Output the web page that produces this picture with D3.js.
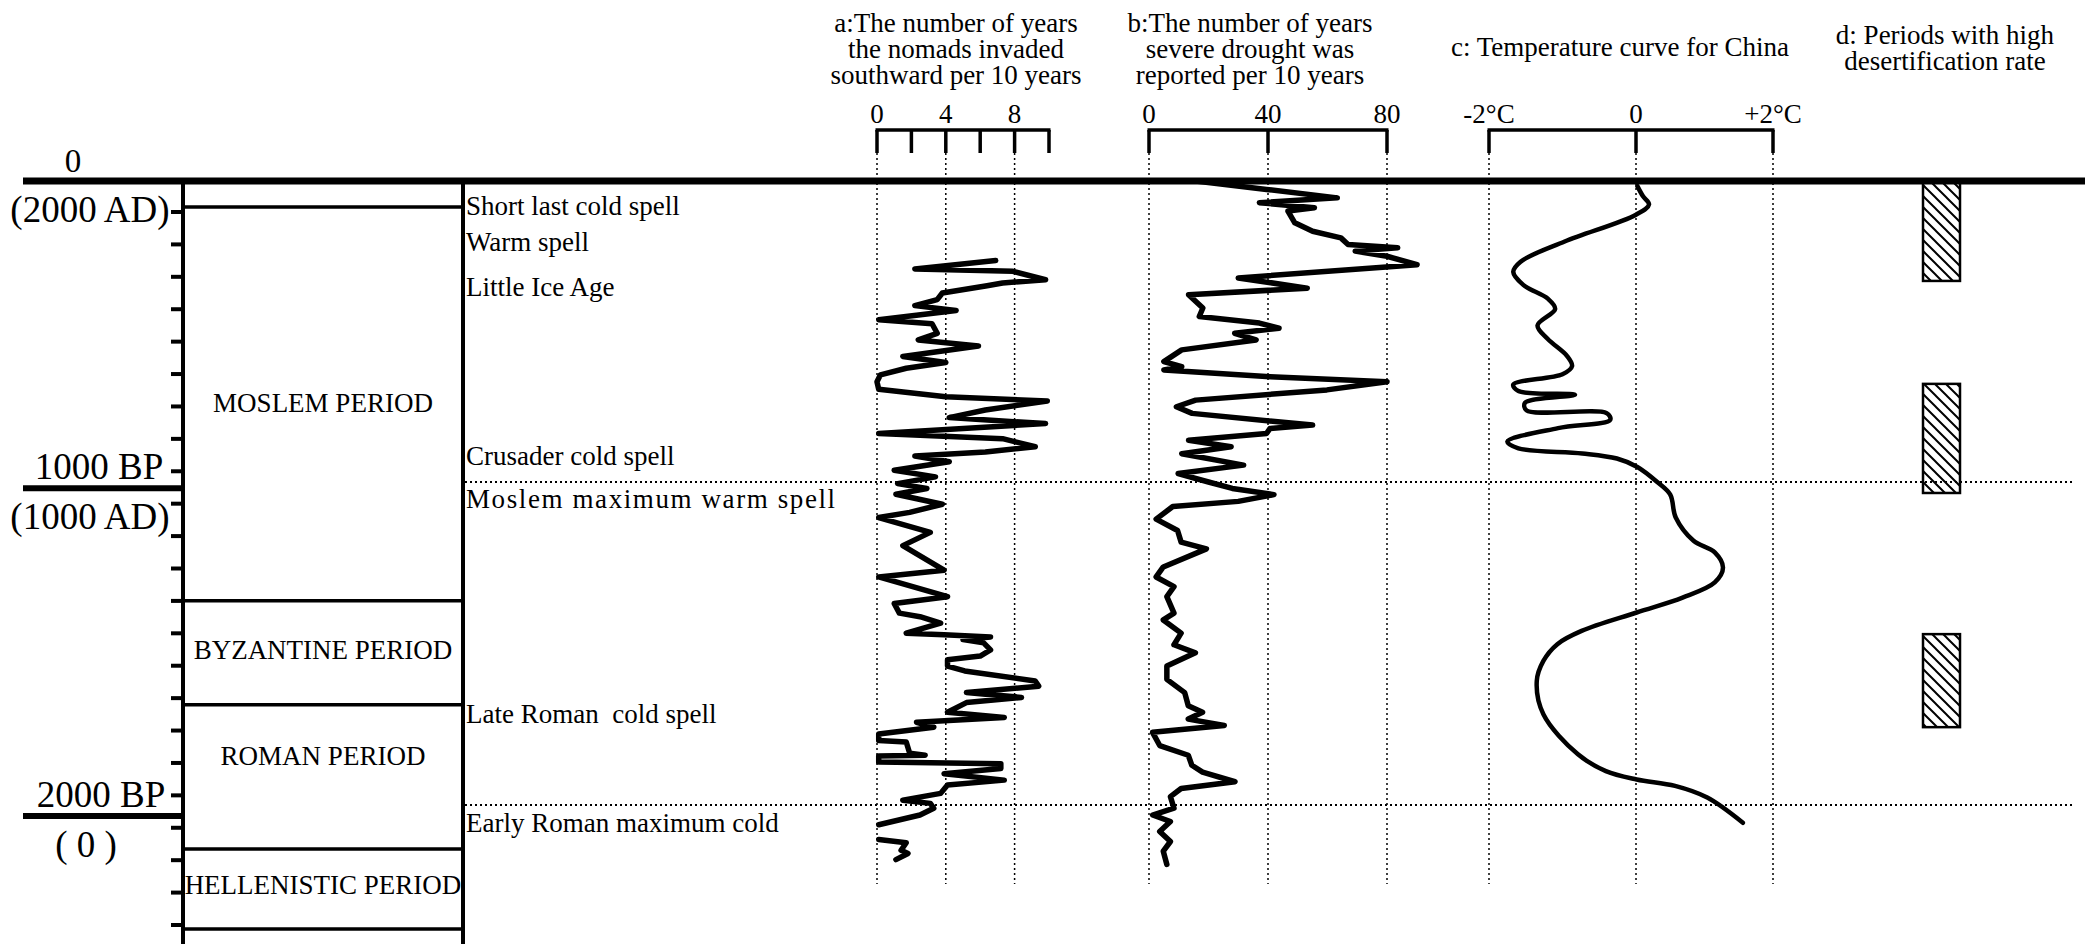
<!DOCTYPE html>
<html>
<head>
<meta charset="utf-8">
<script src="https://cdn.jsdelivr.net/npm/d3@7"></script>
<style>
body { margin: 0; background: #fff; }
text { font-family: "Liberation Serif", "Times New Roman", serif; fill: #000; white-space: pre; }
</style>
</head>
<body>
<div id="chart"></div>
<script>
var width = 2085, height = 944;

// a: years the nomads invaded southward per 10 years  [years BP, count]
var nomads = [[264,6.9],[292,2.2],[300,7.9],[328,9.8],[339,7.3],[348,6.4],[372,3.8],[394,3.5],[414,2.2],[430,4.6],
  [461,0.1],[474,3.2],[506,3.5],[528,2.4],[548,5.9],[583,1.5],[603,4.0],[622,1.7],[644,0.2],[667,0],[692,0.1],
  [717,4.0],[731,9.9],[761,6.3],[786,4.2],[806,9.8],[839,0.1],[856,7.3],[883,9.2],[900,6.3],[914,2.2],[933,4.2],
  [961,1.0],[983,3.4],[1005,1.2],[1020,2.9],[1038,1.1],[1069,3.8],[1094,1.9],[1110,0.1],[1156,3.1],[1197,1.5],
  [1273,3.9],[1294,0.1],[1355,4.1],[1376,1.0],[1406,1.3],[1417,2.5],[1437,3.7],[1468,1.7],[1473,3.9],[1480,6.6],
  [1488,5.0],[1498,6.2],[1520,6.6],[1539,6.0],[1550,4.1],[1570,4.1],[1585,5.1],[1616,9.2],[1632,9.4],[1652,5.2],
  [1667,8.4],[1683,5.2],[1713,4.1],[1729,7.4],[1744,2.3],[1759,3.3],[1780,0.1],[1800,0.1],[1805,1.7],[1840,1.9],
  [1846,2.8],[1848,0.1],[1867,0.1],[1872,7.2],[1887,7.2],[1903,3.9],[1923,7.4],[1938,4.1],[1964,3.7],[1985,1.5],
  [1995,3.1],[2010,3.3],[2031,2.5],[2061,0.1],null,[2107,0.1],[2117,1.7],[2140,1.4],[2150,1.8],[2169,1.1]];

// b: years severe drought was reported per 10 years
var drought = [[0,15.7],[28,39.5],[56,63.3],[72,37.1],[89,55.6],[100,46.7],[139,49],[167,55],[189,64.5],[211,66.9],
  [222,83.6],[233,69.3],[250,80],[278,90.1],[322,30],[356,53.2],[378,13.3],[422,18.1],[450,16.9],[472,37.1],
  [489,43.7],[506,28.8],[528,36],[561,11],[600,5],[617,11],[628,5],[650,40.7],[667,80],[694,59.8],[728,15.7],
  [750,9.2],[772,14.5],[811,55],[822,40.7],[839,39.5],[861,13.3],[883,27.6],[906,11],[944,31.8],[972,9.8],
  [1000,20],[1020,28],[1039,42],[1060,30],[1076,8],[1115,2.4],[1150,9.6],[1186,10.8],[1207,19.3],[1263,4.8],
  [1294,2.4],[1324,8.4],[1355,6.0],[1406,8.4],[1427,4.8],[1468,10.8],[1504,8.4],[1529,15.6],[1570,6.0],[1611,6.0],
  [1652,12],[1693,13.2],[1713,18],[1734,13.2],[1754,25.3],[1775,1.2],[1816,3.6],[1846,13.2],[1877,14.4],[1898,18],
  [1928,28.9],[1949,10.8],[1974,7.2],[2010,8.4],[2031,1.2],[2051,7.2],[2082,3.6],[2113,7.2],[2143,4.8],[2184,6.0]];

// c: temperature curve for China (deg C)
var temperature = [[17,0.02],[50,0.1],[78,0.19],[112,0],[201,-0.97],[268,-1.57],[302,-1.67],[346,-1.53],[391,-1.2],
  [425,-1.1],[480,-1.34],[525,-1.2],[581,-0.94],[615,-0.87],[642,-1.0],[676,-1.67],[698,-1.6],[710,-0.83],
  [737,-1.51],[762,-1.49],[771,-0.4],[793,-0.35],[821,-1.06],[866,-1.75],[888,-1.6],[905,-0.73],[922,-0.26],
  [950,0.02],[1000,0.31],[1039,0.5],[1110,0.58],[1182,0.84],[1218,1.15],[1265,1.27],[1311,1.15],[1358,0.68],
  [1404,0.01],[1461,-0.74],[1502,-1.07],[1554,-1.26],[1616,-1.35],[1719,-1.26],[1843,-0.79],[1895,-0.41],
  [1921,0.01],[1941,0.57],[1977,1.04],[2055,1.56]];

// d: periods with high desertification rate [from, to] years BP
var desertification = [[3,332],[674,1034],[1471,1759]];

// cultural periods in the left column
var periodBounds = [86, 1368, 1690, 2136, 2384];
var periodNames = ["MOSLEM PERIOD", "BYZANTINE PERIOD", "ROMAN PERIOD", "HELLENISTIC PERIOD"];
var periodLabelYears = [737, 1520, 1848, 2248];

var eventNames = ["Short last cold spell", "Warm spell", "Little Ice Age", "Crusader cold spell",
  "Moslem maximum warm spell", "Late Roman  cold spell", "Early Roman maximum cold"];
var eventYears = [83, 203, 352, 914, 1053, 1718, 2056];
var eventSpacing = [0, 0, 0, 0, 1.6, 0, 0];

var eraYears = [0, 1019, 2034];
var eraAbove = ["0", "1000 BP", "2000 BP"];
var eraBelow = ["(2000 AD)", "(1000 AD)", "( 0 )"];
var eraAboveX = [73, 99, 101];
var eraBelowX = [90, 90, 86];

var titleA = ["a:The number of years", "the nomads invaded", "southward per 10 years"];
var titleB = ["b:The number of years", "severe drought was", "reported per 10 years"];
var titleC = ["c: Temperature curve for China"];
var titleD = ["d: Periods with high", "desertification rate"];

var ticksA = [0, 2, 4, 6, 8, 10], labelsA = [0, 4, 8];
var ticksB = [0, 40, 80];
var ticksC = [-2, 0, 2], labelsC = ["-2°C", "0", "+2°C"];

// scales
var y = d3.scaleLinear().domain([0, 1000, 2000, 2500]).range([181, 482, 805, 966.5]);
var xA = d3.scaleLinear().domain([0, 10]).range([877, 1049]);
var xB = d3.scaleLinear().domain([0, 80]).range([1149, 1387]);
var xC = d3.scaleLinear().domain([-2, 0, 2]).range([1489, 1636, 1773]);
var leftTick = d3.scaleLinear().domain([0, 2200]).range([212, 925]);

var svg = d3.select("#chart").append("svg")
  .attr("width", width).attr("height", height)
  .style("display", "block");

var defs = svg.append("defs");
defs.append("pattern")
  .attr("id", "hatch").attr("patternUnits", "userSpaceOnUse")
  .attr("width", 11).attr("height", 11)
  .append("path")
  .attr("d", "M0,0 L11,11 M-3,8 L3,14 M8,-3 L14,3")
  .attr("stroke", "#000").attr("stroke-width", 2);

// ---- left column: periods
var colL = 183, colR = 463;
svg.append("line").attr("x1", colL).attr("x2", colL).attr("y1", y(0)).attr("y2", height)
  .attr("stroke", "#000").attr("stroke-width", 4);
svg.append("line").attr("x1", colR).attr("x2", colR).attr("y1", y(0)).attr("y2", height)
  .attr("stroke", "#000").attr("stroke-width", 4);

svg.selectAll(".ptick").data(d3.range(0, 2201, 100)).enter().append("line")
  .attr("x1", colL - 12).attr("x2", colL)
  .attr("y1", d => leftTick(d)).attr("y2", d => leftTick(d))
  .attr("stroke", "#000").attr("stroke-width", 4);

svg.selectAll(".pbound").data(periodBounds).enter().append("line")
  .attr("x1", colL).attr("x2", colR)
  .attr("y1", d => y(d)).attr("y2", d => y(d))
  .attr("stroke", "#000").attr("stroke-width", 3.5);

svg.selectAll(".pname").data(periodNames).enter().append("text")
  .attr("x", (colL + colR) / 2)
  .attr("y", (d, i) => y(periodLabelYears[i]))
  .attr("dy", "0.34em")
  .attr("text-anchor", "middle")
  .style("font-size", "27px")
  .text(d => d);

// era marks
svg.selectAll(".era").data(eraYears.slice(1)).enter().append("line")
  .attr("x1", 23).attr("x2", colL)
  .attr("y1", d => y(d)).attr("y2", d => y(d))
  .attr("stroke", "#000").attr("stroke-width", 6);
svg.selectAll(".eraA").data(eraAbove).enter().append("text")
  .attr("x", (d, i) => eraAboveX[i]).attr("y", (d, i) => y(eraYears[i]) - 9)
  .attr("text-anchor", "middle").style("font-size", (d, i) => i ? "37px" : "33px")
  .text(d => d);
svg.selectAll(".eraB").data(eraBelow).enter().append("text")
  .attr("x", (d, i) => eraBelowX[i]).attr("y", (d, i) => y(eraYears[i]) + 41)
  .attr("text-anchor", "middle").style("font-size", "37px")
  .text(d => d);

// events
svg.selectAll(".event").data(eventNames).enter().append("text")
  .attr("x", colR + 3).attr("y", (d, i) => y(eventYears[i]))
  .attr("dy", "0.34em")
  .style("font-size", "27px")
  .style("letter-spacing", (d, i) => eventSpacing[i] + "px")
  .text(d => d);

// dotted guides at 1000 and 2000 BP
svg.selectAll(".hguide").data([1000, 2000]).enter().append("line")
  .attr("x1", colR + 2).attr("x2", 2075)
  .attr("y1", d => y(d)).attr("y2", d => y(d))
  .attr("stroke", "#000").attr("stroke-width", 2).attr("stroke-dasharray", "2,3");

// ---- panel axes (bracket style)
var bracketY = 130, tickBottom = 153, guideBottom = 884;
function bracket(scale, ticks, labelVals, labels) {
  var g = svg.append("g");
  var d0 = scale.domain()[0], d1 = scale.domain()[scale.domain().length - 1];
  g.append("line").attr("x1", scale(d0) - 1.5).attr("x2", scale(d1) + 1.5)
    .attr("y1", bracketY).attr("y2", bracketY)
    .attr("stroke", "#000").attr("stroke-width", 3.5);
  g.selectAll(".tk").data(ticks).enter().append("line")
    .attr("x1", d => scale(d)).attr("x2", d => scale(d))
    .attr("y1", bracketY).attr("y2", tickBottom)
    .attr("stroke", "#000").attr("stroke-width", 3.5);
  g.selectAll(".gd").data(labelVals).enter().append("line")
    .attr("x1", d => scale(d)).attr("x2", d => scale(d))
    .attr("y1", tickBottom).attr("y2", guideBottom)
    .attr("stroke", "#000").attr("stroke-width", 1.5).attr("stroke-dasharray", "2,3");
  g.selectAll(".lb").data(labelVals).enter().append("text")
    .attr("x", d => scale(d)).attr("y", 123)
    .attr("text-anchor", "middle").style("font-size", "27px")
    .text((d, i) => labels ? labels[i] : d);
}
bracket(xA, ticksA, labelsA);
bracket(xB, ticksB, ticksB);
bracket(xC, ticksC, ticksC, labelsC);

// titles
function title(lines, cx, y0, step) {
  svg.selectAll(null).data(lines).enter().append("text")
    .attr("x", cx).attr("y", (d, i) => y0 + i * step)
    .attr("text-anchor", "middle").style("font-size", "27px")
    .text(d => d);
}
title(titleA, 956, 32, 26);
title(titleB, 1250, 32, 26);
title(titleC, 1620, 56, 26);
title(titleD, 1945, 44, 26);

// main top line
svg.append("line").attr("x1", 23).attr("x2", width)
  .attr("y1", y(0)).attr("y2", y(0))
  .attr("stroke", "#000").attr("stroke-width", 7);

// ---- curves
var lineA = d3.line().defined(d => d != null).x(d => xA(d[1])).y(d => y(d[0]));
var lineB = d3.line().x(d => xB(d[1])).y(d => y(d[0]));
var lineC = d3.line().curve(d3.curveCatmullRom).x(d => xC(d[1])).y(d => y(d[0]));

[[nomads, lineA, 5.5], [drought, lineB, 5.5], [temperature, lineC, 4.5]].forEach(function (s) {
  svg.append("path").datum(s[0]).attr("d", s[1])
    .attr("fill", "none").attr("stroke", "#000")
    .attr("stroke-width", s[2])
    .attr("stroke-linejoin", "round").attr("stroke-linecap", "round");
});

// ---- d: hatched boxes
svg.selectAll(".desert").data(desertification).enter().append("rect")
  .attr("x", 1923).attr("width", 37)
  .attr("y", d => y(d[0])).attr("height", d => y(d[1]) - y(d[0]))
  .attr("fill", "url(#hatch)").attr("stroke", "#000").attr("stroke-width", 2.5);
</script>
</body>
</html>
